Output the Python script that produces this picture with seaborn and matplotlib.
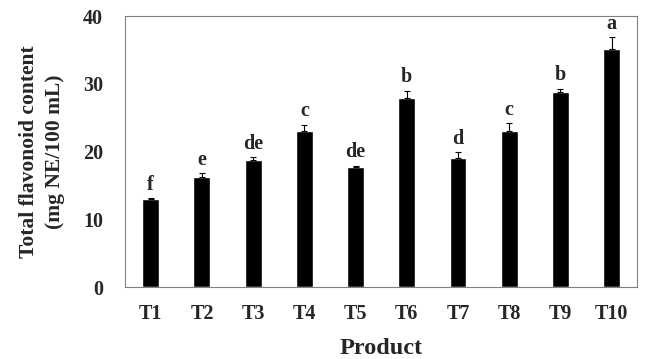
import numpy as np
import pandas as pd
import matplotlib
matplotlib.use("Agg")
import matplotlib.pyplot as plt
import seaborn as sns

products = ["T1", "T2", "T3", "T4", "T5", "T6", "T7", "T8", "T9", "T10"]
flavonoid = [13.0, 16.3, 18.7, 23.1, 17.7, 27.9, 19.0, 23.0, 28.8, 35.1]
sd = [0.1, 0.5, 0.5, 0.9, 0.2, 1.1, 0.9, 1.2, 0.5, 1.8]
letters = ["f", "e", "de", "c", "de", "b", "d", "c", "b", "a"]

df = pd.DataFrame({"Product": products, "Flavonoid": flavonoid, "SD": sd})

sns.set_style("white")
plt.rcParams["font.family"] = ["Liberation Serif", "DejaVu Serif"]
plt.rcParams["font.weight"] = "bold"

fig = plt.figure(figsize=(6.45, 3.59), dpi=100)
ax = fig.add_axes([0.194, 0.2, 0.794, 0.755])

sns.barplot(data=df, x="Product", y="Flavonoid", color="black",
            width=0.33, errorbar=None, ax=ax, saturation=1)

xs = np.arange(len(products))
ax.errorbar(xs, df["Flavonoid"], yerr=[np.zeros(len(sd)), df["SD"]],
            fmt="none", ecolor="black", elinewidth=0.8, capsize=2.5, capthick=0.8)

for x, v, e, lab in zip(xs, flavonoid, sd, letters):
    ax.annotate(lab, (x, v + e), xytext=(0, 2.5), textcoords="offset points",
                ha="center", va="bottom", fontsize=14.5, fontweight="bold")

ax.set_ylim(0, 40)
ax.set_xlim(-0.5, len(products) - 0.5)
ax.set_yticks([0, 10, 20, 30, 40])
ax.set_xticks(xs)
ax.set_xticklabels(products)

# minor ticks between categories, pointing inward
ax.set_xticks(xs[:-1] + 0.5, minor=True)
ax.tick_params(axis="x", which="major", length=0, pad=12, labelsize=14.5)
ax.tick_params(axis="x", which="minor", direction="in", length=4, color="#808080", width=0.8)
ax.tick_params(axis="y", direction="in", length=4, color="#808080", width=0.8, pad=16, labelsize=14.5)

for s in ax.spines.values():
    s.set_color("#808080")
    s.set_linewidth(0.8)

ax.set_xlabel("Product", fontsize=17.5, fontweight="bold", labelpad=10)
ax.set_ylabel("Total flavonoid content\n(mg NE/100 mL)", fontsize=15.5,
              fontweight="bold", labelpad=13, linespacing=1.35)

fig.savefig("out.png", dpi=100)
